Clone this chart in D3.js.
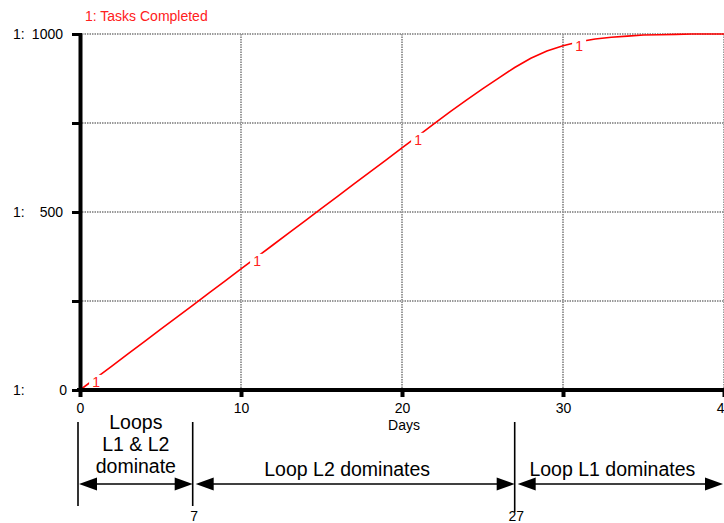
<!DOCTYPE html>
<html><head><meta charset="utf-8">
<script src="https://cdn.jsdelivr.net/npm/d3@7"></script>
<style>
body{margin:0;background:#fff;}
svg{display:block;font-family:"Liberation Sans",Arial,Helvetica,sans-serif;}
</style>
</head><body>
<svg id="chart" width="724" height="523"></svg>
<script>
// ---- data ----
const days = [0,1,2,3,4,5,6,7,8,9,10,11,12,13,14,15,16,17,18,19,20,21,22,23,24,25,26,27,28,29,30,31,32,33,34,35,36,37,38,39,40];
const tasksCompleted = [0,34,68,102,136,170,204,238,272,306,340,374,408,442,476,510,544,578,612,646,680,714,748,782,814,846,876,906,932,952,967,978,986,991,994,997,998,999,1000,1000,1000];
const xTicks = [0,10,20,30,40];
const yTicks = [0,250,500,750,1000];
const yTickLabels = ["0","","500","","1000"];
const seriesName = "1: Tasks Completed";
const seriesId = "1";
const markerDays = [1,11,21,31];
const xTitle = "Days";
const phaseBounds = [0,7,27,40];
const phaseLabels = [["Loops","L1 & L2","dominate"],["Loop L2 dominates"],["Loop L1 dominates"]];
const boundaryLabels = [{day:7,text:"7"},{day:27,text:"27"}];

// ---- chart ----
const svg = d3.select("#chart");
const x = d3.scaleLinear().domain([0,40]).range([80,724]);
const y = d3.scaleLinear().domain([0,1000]).range([390,34]);

// grid
const grid = svg.append("g").attr("stroke","#9a9a9a").attr("stroke-width",2).attr("stroke-dasharray","1.5,1");
grid.selectAll("line.v").data(xTicks.filter(d=>d>0)).join("line")
  .attr("x1",d=>x(d)).attr("x2",d=>x(d)).attr("y1",y(1000)).attr("y2",y(0));
grid.selectAll("line.h").data(yTicks.filter(d=>d>0)).join("line")
  .attr("x1",x(0)+2).attr("x2",x(40)).attr("y1",d=>y(d)).attr("y2",d=>y(d));

// series line
const line = d3.line().x((d,i)=>x(days[i])).y(d=>y(d));
svg.append("path").datum(tasksCompleted).attr("d",line)
  .attr("fill","none").attr("stroke","#ff0000").attr("stroke-width",1.6);

// series markers "1"
const mk = svg.append("g").selectAll("g").data(markerDays).join("g")
  .attr("transform",d=>`translate(${x(d)},${y(tasksCompleted[days.indexOf(d)])+4})`);
mk.append("rect").attr("x",-7).attr("y",-7).attr("width",14).attr("height",14).attr("fill","#fff");
mk.append("text").text(seriesId).attr("text-anchor","middle").attr("dy","0.36em")
  .attr("font-size",14).attr("fill","#ff2020");

// y axis
const yAxis = svg.append("g").attr("transform",`translate(${x(0)},0)`)
  .call(d3.axisLeft(y).tickValues(yTicks).tickSizeInner(8).tickSizeOuter(0).tickFormat(""));
yAxis.select(".domain").attr("stroke","#000").attr("stroke-width",4);
yAxis.selectAll(".tick line").attr("x1",2).attr("x2",-8).attr("stroke","#000").attr("stroke-width",3);

// y labels
const yl = svg.append("g").attr("font-size",14).attr("fill","#000");
yTicks.forEach((v,i)=>{
  if(!yTickLabels[i]) return;
  yl.append("text").attr("x",13).attr("y",y(v)+5).text(seriesId+":");
  yl.append("text").attr("x",v===0?67:63).attr("y",y(v)+5).attr("text-anchor","end").text(yTickLabels[i]);
});

// x axis
const xAxis = svg.append("g").attr("transform",`translate(0,${y(0)})`)
  .call(d3.axisBottom(x).tickValues(xTicks).tickSizeInner(7).tickSizeOuter(0).tickPadding(6));
xAxis.select(".domain").attr("stroke","#000").attr("stroke-width",4).attr("d",`M${x(0)-3},0H${x(40)}`);
xAxis.selectAll(".tick line").attr("stroke","#000").attr("stroke-width",4);
xAxis.selectAll(".tick text").attr("font-size",14).attr("fill","#000").attr("font-family",null);

svg.append("text").attr("x",404).attr("y",430).attr("text-anchor","middle").attr("font-size",14).text(xTitle);

// title
svg.append("text").attr("x",85).attr("y",21).attr("font-size",14).attr("fill","#ff2020").text(seriesName);

// phase annotation
const ann = svg.append("g");
phaseBounds.slice(0,3).forEach((b,i)=>{
  ann.append("line").attr("x1",x(b)-(i===0?2:0)).attr("x2",x(b)-(i===0?2:0))
    .attr("y1",422).attr("y2",i===2?512:506).attr("stroke","#000").attr("stroke-width",1.6);
});
const ay = 484, hl = 18, hh = 6.5;
phaseBounds.slice(0,3).forEach((b,i)=>{
  const x0 = x(b) + (i===0?-1:3), x1 = x(phaseBounds[i+1]) - (i===2?1:0);
  ann.append("line").attr("x1",x0+hl-2).attr("x2",x1-hl+2).attr("y1",ay).attr("y2",ay)
    .attr("stroke","#000").attr("stroke-width",1.6);
  ann.append("path").attr("d",`M${x0},${ay}L${x0+hl},${ay-hh}L${x0+hl},${ay+hh}Z`).attr("fill","#000");
  ann.append("path").attr("d",`M${x1},${ay}L${x1-hl},${ay-hh}L${x1-hl},${ay+hh}Z`).attr("fill","#000");
  const cx = (x0+x1)/2 - (i===0?0:8);
  const lines = phaseLabels[i];
  lines.forEach((t,j)=>{
    const base = lines.length>1 ? 429 + j*22 : 476;
    ann.append("text").attr("x",cx).attr("y",base).attr("text-anchor","middle")
      .attr("font-size",19.5).attr("fill","#000").text(t);
  });
});
boundaryLabels.forEach(d=>{
  ann.append("text").attr("x",x(d.day)+1.5).attr("y",521).attr("text-anchor","middle")
    .attr("font-size",14).attr("fill","#000").text(d.text);
});
</script>
</body></html>
